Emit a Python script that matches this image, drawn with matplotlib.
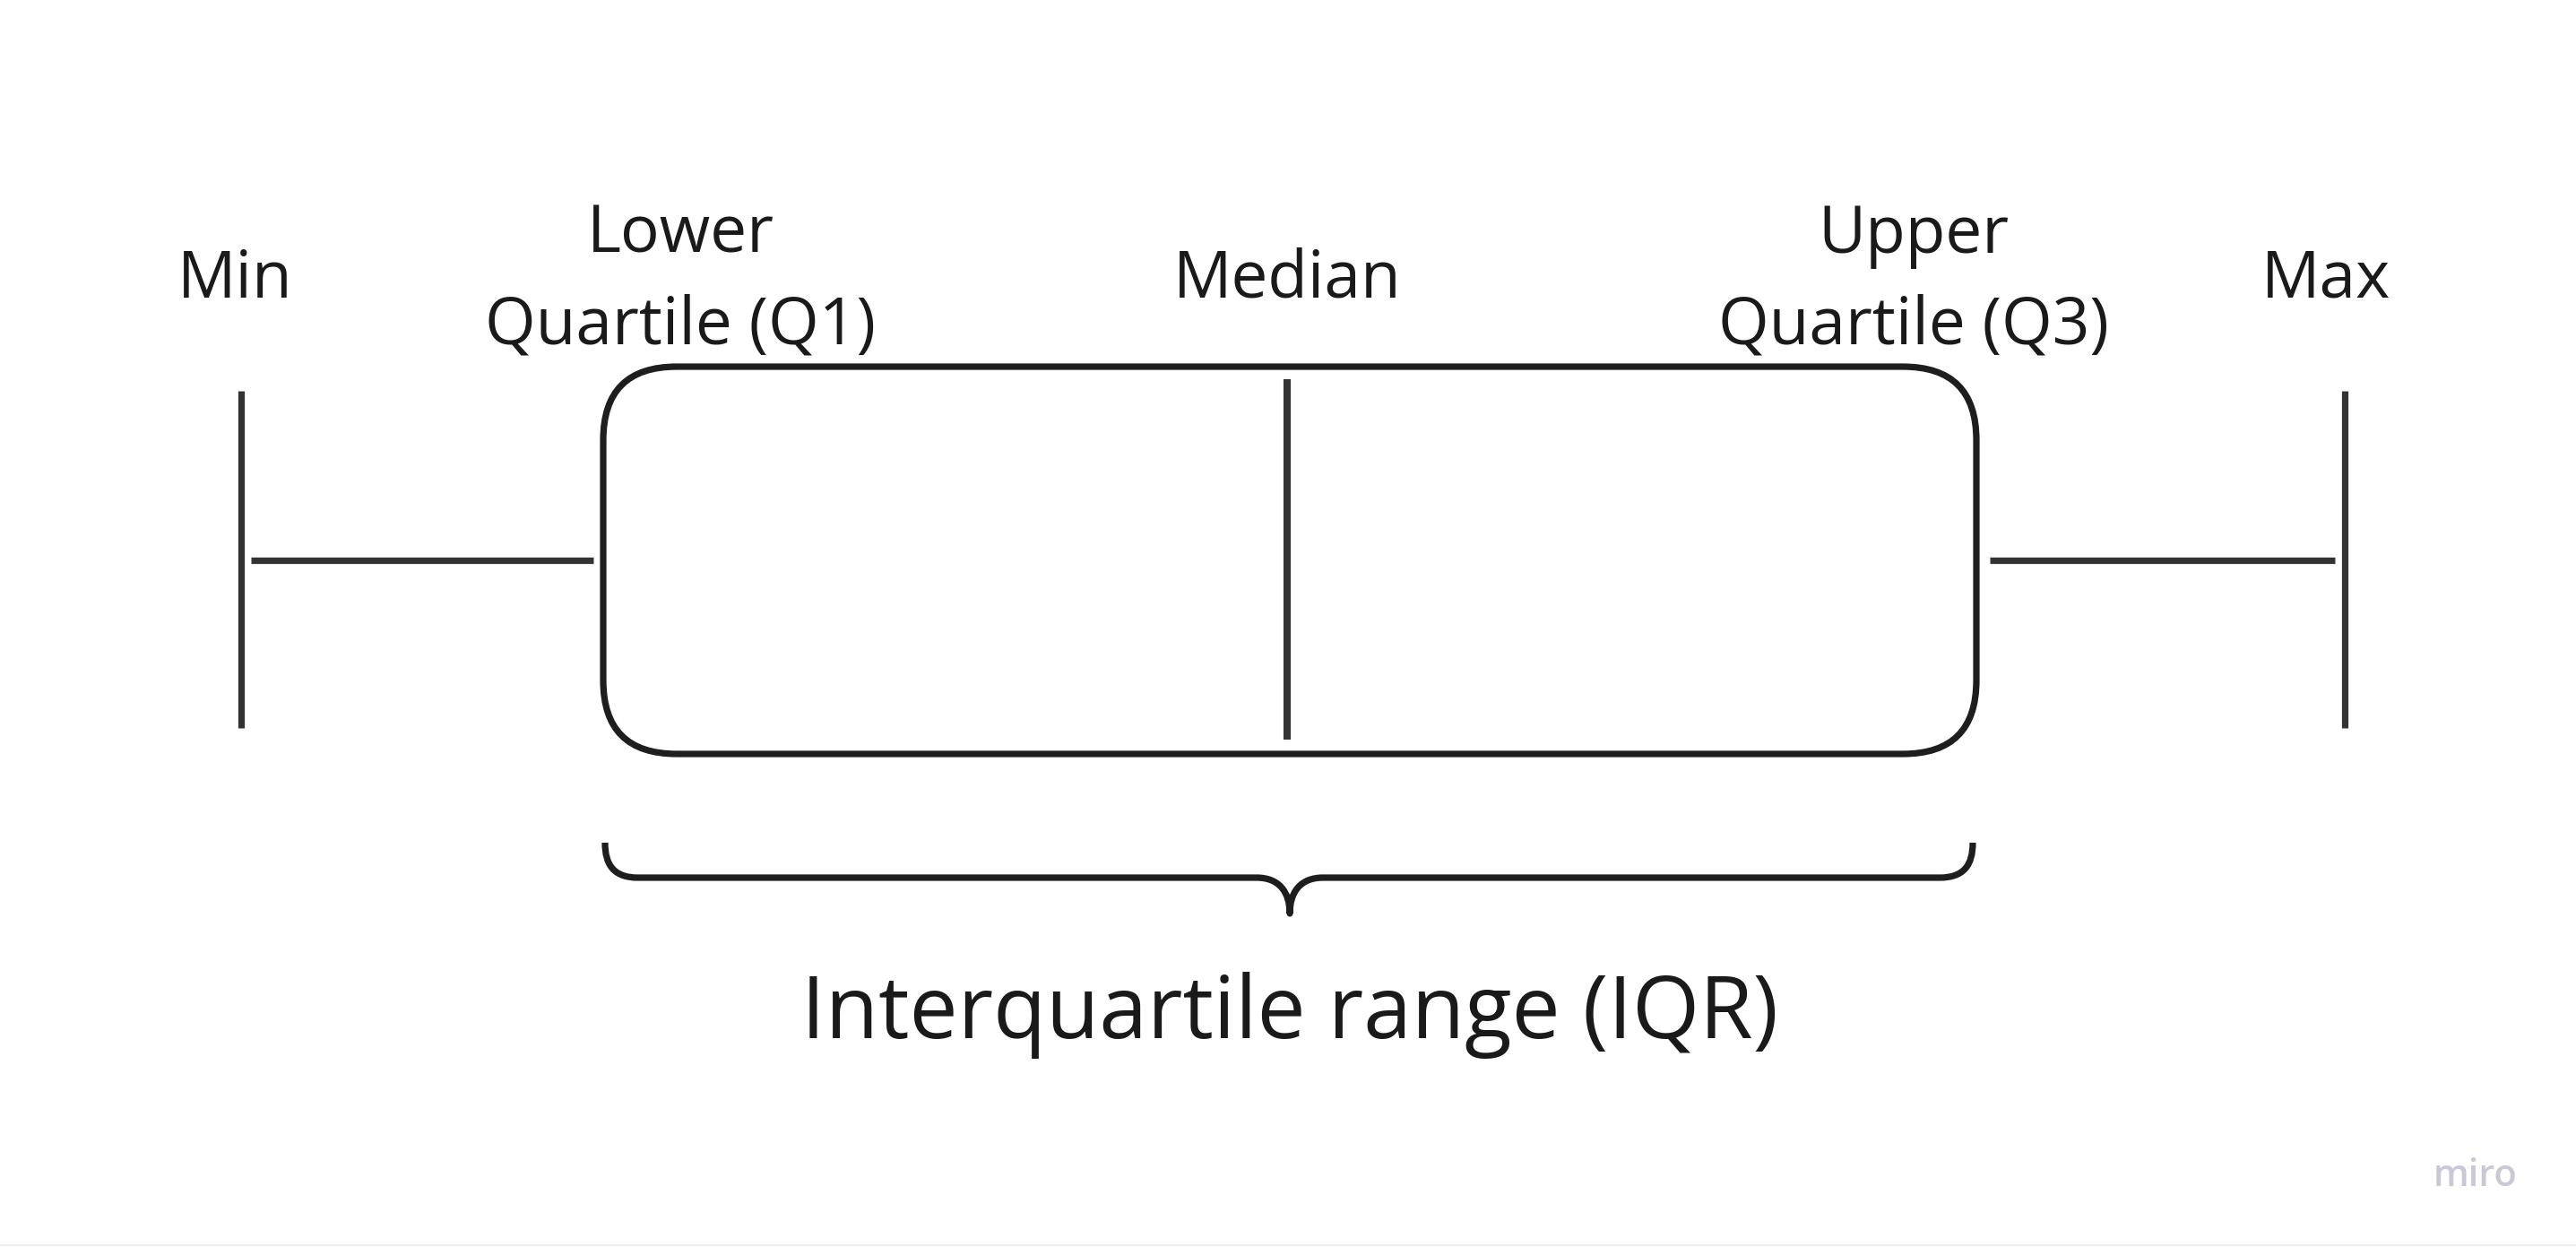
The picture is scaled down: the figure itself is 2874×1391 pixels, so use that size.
import matplotlib
matplotlib.use("Agg")
from matplotlib import pyplot as plt
from matplotlib.patches import FancyBboxPatch, PathPatch
from matplotlib.path import Path

plt.rcParams['font.family'] = ['Open Sans', 'DejaVu Sans']

### Five number summary (drawn in canvas units, y grows downward) ###

stat_names = ["Min", "Lower\nQuartile (Q1)", "Median", "Upper\nQuartile (Q3)", "Max"]
stat_values = [269, 673, 1436, 2205, 2616]
label_offsets = [-7, 86, 0, -70, -21]
label_baselines = [332, 383, 332, 383, 332]   # baseline of the last text line
iqr_label = "Interquartile range (IQR)"

# layout
box_top, box_bottom = 409, 841
whisker_top, whisker_bottom = 436, 812
whisker_y = 625
whisker_gap = 11
median_top, median_bottom = 423, 825
brace_top, brace_mid, brace_tip = 940, 979, 1019

dark = '#1e1e1e'
grey = '#333333'
lw = 5.2

W, H = 2874, 1391
fig = plt.figure(figsize=(W / 100, H / 100), dpi=100)
ax = fig.add_axes([0, 0, 1, 1])
ax.set_xlim(0, W)
ax.set_ylim(H, 0)
ax.axis('off')

vmin, q1, med, q3, vmax = stat_values

# min / max end lines
ax.vlines([vmin, vmax], whisker_top, whisker_bottom, colors=grey, lw=lw)
# whiskers
ax.hlines(whisker_y, vmin + whisker_gap, q1 - whisker_gap, colors=grey, lw=lw)
ax.hlines(whisker_y, q3 + whisker_gap + 4, vmax - whisker_gap, colors=grey, lw=lw)

# rounded box
box = FancyBboxPatch((q1, box_top), q3 - q1, box_bottom - box_top,
                     boxstyle="round,pad=0,rounding_size=82",
                     facecolor='none', edgecolor=dark, lw=lw)
ax.add_patch(box)

# median
ax.vlines(med, median_top, median_bottom, colors=grey, lw=lw + 0.6)

# curly brace under the box
mid = (q1 + q3) / 2
r = 37
verts = [
    (q1 + 2, brace_top),
    (q1 + 2, brace_top + 25), (q1 + 12, brace_mid), (q1 + 2 + r, brace_mid),
    (mid - r, brace_mid),
    (mid - 12, brace_mid), (mid, brace_mid + 16), (mid, brace_tip),
    (mid, brace_mid + 16), (mid + 12, brace_mid), (mid + r, brace_mid),
    (q3 - 4 - r, brace_mid),
    (q3 - 14, brace_mid), (q3 - 4, brace_top + 25), (q3 - 4, brace_top),
]
codes = [Path.MOVETO,
         Path.CURVE4, Path.CURVE4, Path.CURVE4,
         Path.LINETO,
         Path.CURVE4, Path.CURVE4, Path.CURVE4,
         Path.CURVE4, Path.CURVE4, Path.CURVE4,
         Path.LINETO,
         Path.CURVE4, Path.CURVE4, Path.CURVE4]
ax.add_patch(PathPatch(Path(verts, codes), facecolor='none', edgecolor=dark,
                       lw=lw, capstyle='butt', joinstyle='round'))

# labels
for name, val, off, base in zip(stat_names, stat_values, label_offsets, label_baselines):
    ax.text(val + off, base, name, ha='center', va='baseline', fontsize=52.5,
            color='#1a1a1a', linespacing=1.49, multialignment='center')

ax.text(mid, 1158, iqr_label, ha='center', va='baseline', fontsize=69.5, color='#1a1a1a')

# watermark and bottom edge
ax.text(2762, 1323, "miro", ha='center', va='baseline', fontsize=30,
        fontweight='semibold', color='#c8c8d6')
ax.axhline(1389, color='#eeeeee', lw=1.5)

fig.savefig('out.png', dpi=100, facecolor='white')
